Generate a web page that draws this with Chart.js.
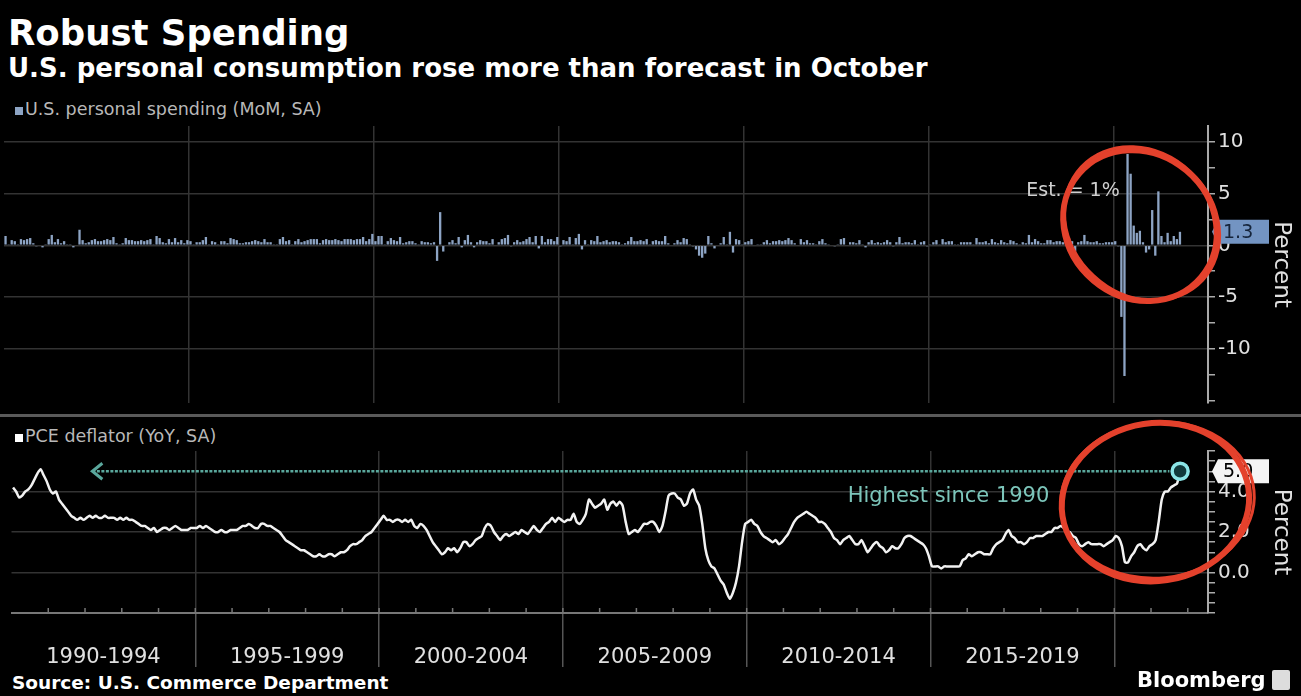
<!DOCTYPE html>
<html lang="en">
<head>
  <meta charset="UTF-8">
  <title>Robust Spending</title>
  <script src="https://cdn.jsdelivr.net/npm/chart.js"></script>
  <style>
    body { margin: 0; background: #000; width: 1301px; height: 696px; overflow: hidden; position: relative; font-family: 'DejaVu Sans', sans-serif; color: #fff; }
    #titulo { position: absolute; left: 8px; top: 12px; font-size: 35.5px; font-weight: bold; }
    #subtitulo { position: absolute; left: 8px; top: 53px; font-size: 26px; font-weight: bold; }
    .leyenda { position: absolute; left: 15px; font-size: 17.5px; color: #b8b8b8; white-space: nowrap; }
    .leyenda i { display: inline-block; width: 8px; height: 8px; margin-right: 2px; }
    canvas { position: absolute; left: 0; }
    #separador { position: absolute; left: 0; top: 414px; width: 1301px; height: 3px; background: #5a5a5a; }
    #fuente { position: absolute; left: 12px; top: 672px; font-size: 18.5px; font-weight: bold; }
    #marca { position: absolute; left: 1137px; top: 668px; font-size: 21px; font-weight: bold; }
    #marca i { display: inline-block; width: 18px; height: 20px; background: #ddd; border-radius: 2px; margin-left: 6px; vertical-align: -3px; }
  </style>
</head>
<body>
  <div id="titulo">Robust Spending</div>
  <div id="subtitulo">U.S. personal consumption rose more than forecast in October</div>

  <div class="leyenda" style="top:99px"><i style="background:#8da4c4"></i>U.S. personal spending (MoM, SA)</div>
  <canvas id="gasto" width="1301" height="318" style="top:100px"></canvas>
  <div id="separador"></div>

  <div class="leyenda" style="top:426px"><i style="background:#fff"></i>PCE deflator (YoY, SA)</div>
  <canvas id="precios" width="1301" height="253" style="top:418px"></canvas>

  <div id="fuente">Source: U.S. Commerce Department</div>
  <div id="marca">Bloomberg<i></i></div>

  <script>
    // Gasto personal, variación mensual (%), ene 1990 - oct 2021
    const gastoMensual = [
      0.9, 0.1, 0.5, 0.4, 0.1, 0.6, 0.5, 0.6, 0.7, 0.2, -0.1, 0.0,
      -0.2, 0.1, 0.6, 1.0, 0.3, 0.6, 0.2, 0.4, 0.1, 0.1, -0.2, 0.0,
      1.5, 0.5, 0.2, 0.3, 0.5, 0.6, 0.4, 0.4, 0.5, 0.6, 0.5, 0.8,
      0.2, 0.1, 0.2, 0.7, 0.5, 0.5, 0.4, 0.4, 0.5, 0.4, 0.5, 0.6,
      0.1, 0.9, 0.7, 0.3, 0.2, 0.6, 0.3, 0.7, 0.3, 0.5, 0.2, 0.5,
      0.4, 0.1, 0.3, 0.3, 0.5, 0.8, 0.1, 0.4, 0.3, 0.1, 0.4, 0.4,
      0.2, 0.7, 0.6, 0.5, 0.2, 0.2, 0.3, 0.3, 0.4, 0.5, 0.4, 0.3,
      0.6, 0.3, 0.3, 0.1, 0.1, 0.6, 0.8, 0.4, 0.5, 0.1, 0.4, 0.6,
      0.3, 0.4, 0.5, 0.6, 0.6, 0.6, 0.2, 0.5, 0.6, 0.5, 0.5, 0.6,
      0.5, 0.4, 0.6, 0.6, 0.6, 0.5, 0.6, 0.6, 0.8, 0.4, 0.6, 1.1,
      0.4, 0.9, 0.9, 0.1, 0.4, 0.7, 0.5, 0.4, 0.8, 0.2, 0.3, 0.4,
      0.4, 0.2, 0.1, 0.4, 0.3, 0.3, 0.2, 0.3, -1.5, 3.2, -0.6, 0.0,
      0.3, 0.5, 0.2, 0.8, -0.2, 0.5, 1.0, 0.3, -0.2, 0.3, 0.5, 0.4,
      0.4, 0.2, 0.6, 0.0, 0.3, 0.6, 0.7, 1.0, -0.1, 0.3, 0.5, 0.3,
      0.4, 0.6, 0.8, 0.3, 0.9, -0.3, 0.9, 0.3, 0.6, 0.6, 0.4, 0.8,
      -0.1, 0.5, 0.4, 0.8, 0.1, 0.7, 1.1, -0.4, 0.5, 0.1, 0.5, 0.4,
      0.9, 0.3, 0.4, 0.5, 0.3, 0.4, 0.4, 0.3, 0.1, 0.2, 0.4, 0.8,
      0.4, 0.4, 0.5, 0.4, 0.6, 0.1, 0.4, 0.5, 0.4, 0.4, 0.9, 0.2,
      0.0, 0.2, 0.5, 0.3, 0.7, 0.6, 0.1, -0.1, -0.4, -1.0, -1.2, -0.8,
      0.9, 0.2, -0.3, 0.0, 0.2, 0.8, 0.1, 1.3, -0.7, 0.6, 0.5, 0.1,
      0.3, 0.4, 0.6, 0.0, 0.1, 0.1, 0.3, 0.5, 0.2, 0.4, 0.4, 0.5,
      0.4, 0.5, 0.7, 0.5, 0.2, 0.0, 0.6, 0.3, 0.5, 0.2, 0.2, 0.1,
      0.4, 0.6, 0.2, 0.1, 0.0, -0.1, 0.1, 0.6, 0.7, 0.0, 0.3, 0.3,
      0.2, 0.5, 0.1, -0.2, 0.3, 0.5, 0.2, 0.3, 0.2, 0.3, 0.5, 0.3,
      -0.1, 0.3, 0.8, 0.2, 0.3, 0.3, 0.2, 0.5, 0.1, 0.3, 0.4, -0.1,
      0.1, 0.3, 0.5, 0.1, 0.6, 0.3, 0.4, 0.4, 0.1, 0.1, 0.3, 0.3,
      0.3, 0.3, 0.1, 0.7, 0.3, 0.3, 0.4, 0.2, 0.6, 0.3, 0.2, 0.5,
      0.3, 0.2, 0.5, 0.4, 0.2, 0.1, 0.3, 0.2, 1.0, 0.3, 0.6, 0.4,
      0.2, 0.2, 0.5, 0.5, 0.3, 0.4, 0.4, 0.3, 0.2, 0.7, 0.4, -0.6,
      0.3, 0.4, 1.0, 0.4, 0.3, 0.3, 0.4, 0.2, 0.2, 0.3, 0.3, 0.3,
      0.4, -0.1, -6.9, -12.6, 8.8, 6.9, 1.9, 1.2, 1.4, 0.3, -0.7, -0.4,
      3.4, -1.0, 5.2, 0.9, 0.3, 1.2, 0.4, 0.9, 0.6, 1.3
    ];

    // Deflactor PCE, variación anual (%), ene 1990 - oct 2021
    const deflactorPCE = [
      4.2, 4.0, 3.7, 3.8, 4.0, 4.1, 4.3, 4.6, 4.9, 5.1, 4.8, 4.5,
      4.1, 3.9, 4.0, 3.6, 3.4, 3.2, 3.0, 2.8, 2.7, 2.6, 2.7, 2.6,
      2.7, 2.8, 2.7, 2.8, 2.7, 2.7, 2.8, 2.7, 2.7, 2.7, 2.6, 2.7,
      2.6, 2.7, 2.6, 2.6, 2.5, 2.4, 2.3, 2.3, 2.2, 2.1, 2.2, 2.0,
      2.1, 2.2, 2.2, 2.1, 2.2, 2.3, 2.2, 2.1, 2.1, 2.1, 2.2, 2.2,
      2.2, 2.3, 2.2, 2.3, 2.2, 2.1, 2.0, 2.0, 2.1, 2.0, 2.0, 2.1,
      2.1, 2.1, 2.2, 2.3, 2.3, 2.4, 2.3, 2.2, 2.2, 2.4, 2.4, 2.3,
      2.3, 2.2, 2.1, 2.0, 1.8, 1.6, 1.5, 1.4, 1.3, 1.2, 1.1, 1.1,
      1.0, 0.9, 0.8, 0.8, 0.9, 0.8, 0.8, 0.9, 0.9, 0.8, 0.9, 1.0,
      1.0, 1.1, 1.3, 1.4, 1.4, 1.5, 1.6, 1.8, 1.9, 2.0, 2.2, 2.4,
      2.6, 2.8, 2.6, 2.6, 2.5, 2.6, 2.6, 2.5, 2.6, 2.5, 2.6, 2.3,
      2.2, 2.4, 2.3, 2.1, 1.8, 1.5, 1.3, 1.1, 0.9, 1.0, 1.2, 1.1,
      1.2, 1.0, 1.2, 1.5, 1.5, 1.3, 1.4, 1.6, 1.7, 1.8, 2.2, 2.4,
      2.3, 2.0, 1.8, 1.6, 1.8, 1.9, 1.8, 1.9, 2.0, 1.9, 2.1, 2.0,
      1.9, 2.1, 2.3, 2.1, 2.0, 2.2, 2.4, 2.5, 2.7, 2.5, 2.7, 2.6,
      2.5, 2.6, 2.6, 2.9, 2.5, 2.4, 2.6, 2.9, 3.6, 3.4, 3.2, 3.3,
      3.4, 3.6, 3.1, 3.4, 3.5, 3.3, 3.5, 3.3, 2.5, 1.9, 2.0, 2.1,
      2.0, 2.2, 2.4, 2.4, 2.5, 2.5, 2.3, 2.0, 2.3, 3.0, 3.8, 3.9,
      3.9, 3.7, 3.6, 3.3, 3.4, 3.9, 4.1, 3.6, 3.3, 2.4, 1.2, 0.6,
      0.3, 0.2, -0.1, -0.4, -0.6, -1.0, -1.3, -1.0, -0.5, 0.3, 1.5, 2.4,
      2.5, 2.6, 2.4, 2.3, 2.0, 1.8, 1.7, 1.6, 1.5, 1.6, 1.4, 1.5,
      1.7, 1.9, 2.2, 2.5, 2.7, 2.8, 2.9, 3.0, 2.9, 2.8, 2.7, 2.5,
      2.5, 2.4, 2.2, 2.0, 1.7, 1.6, 1.4, 1.6, 1.7, 1.8, 1.6, 1.4,
      1.4, 1.6, 1.3, 1.0, 1.2, 1.4, 1.5, 1.3, 1.2, 1.0, 1.1, 1.3,
      1.2, 1.2, 1.4, 1.7, 1.8, 1.8, 1.7, 1.6, 1.5, 1.4, 1.2, 0.8,
      0.3, 0.3, 0.3, 0.2, 0.3, 0.3, 0.3, 0.3, 0.3, 0.3, 0.6, 0.7,
      0.9, 0.8, 0.9, 1.0, 1.0, 0.9, 0.9, 0.9, 1.2, 1.4, 1.5, 1.6,
      1.9, 2.1, 1.8, 1.7, 1.5, 1.5, 1.4, 1.5, 1.7, 1.7, 1.8, 1.8,
      1.8, 1.9, 2.0, 2.0, 2.2, 2.2, 2.3, 2.2, 2.0, 2.0, 1.8, 1.7,
      1.4, 1.3, 1.4, 1.5, 1.4, 1.4, 1.4, 1.4, 1.3, 1.4, 1.5, 1.6,
      1.8, 1.7, 1.3, 0.5, 0.5, 0.8, 1.0, 1.3, 1.4, 1.2, 1.1, 1.3,
      1.4, 1.6, 2.5, 3.6, 4.0, 4.0, 4.2, 4.3, 4.4, 5.0
    ];

    // Etiquetas de los ejes
    const periodos = ['1990-1994', '1995-1999', '2000-2004', '2005-2009', '2010-2014', '2015-2019'];
    const inicioPeriodos = [1990, 1995, 2000, 2005, 2010, 2015];
    const etiquetasGasto = [10, 5, 0, -5, -10];
    const etiquetasPCE = [0, 2, 4];

    const anioInicio = 1990;
    const anioFin = 2022.55;
    const teal = '#5aa79c';
    const rojo = '#e4412c';

    Chart.defaults.font.family = "'DejaVu Sans', sans-serif";
    Chart.defaults.color = '#e0e0e0';

    // Mes i -> año decimal (mitad de mes)
    const puntos = serie => serie.map((v, i) => ({ x: anioInicio + (i + 0.5) / 12, y: v }));

    const transparente = 'rgba(0,0,0,0)';
    const cadaAnio = () => {
      const ticks = [];
      for (let a = anioInicio; a <= 2022; a++) ticks.push({ value: a });
      return ticks;
    };
    const esQuinquenio = ctx => ctx.tick && ctx.tick.value % 5 === 0 && ctx.tick.value > anioInicio;

    function ticksMenores(desde, hasta, paso) {
      const t = [];
      for (let v = desde; v <= hasta + 1e-9; v += paso) t.push({ value: Math.round(v * 100) / 100 });
      return t;
    }

    function ejeY(min, max, paso, etiquetas, formato) {
      return {
        position: 'right', min, max,
        afterFit: s => { s.width = 93; },
        afterBuildTicks: s => { s.ticks = ticksMenores(Math.ceil(min / paso) * paso, max, paso); },
        border: { color: '#aaa', width: 2 },
        grid: {
          color: ctx => ctx.tick && etiquetas.includes(ctx.tick.value) ? '#333' : transparente,
          tickColor: '#aaa', tickLength: 7, lineWidth: 1.5
        },
        ticks: {
          autoSkip: false, padding: 3, color: '#e0e0e0', font: { size: 20 },
          callback: v => etiquetas.includes(v) ? formato(v) : ''
        },
        title: { display: true, text: 'Percent', color: '#e0e0e0', font: { size: 23 }, padding: 6 }
      };
    }

    function cajaValor(chart, valor, fondo, colorTexto) {
      const ctx = chart.ctx;
      const y = chart.scales.y.getPixelForValue(valor);
      const x = chart.chartArea.right + 4;
      ctx.save();
      ctx.fillStyle = fondo;
      ctx.beginPath();
      ctx.moveTo(x, y);
      ctx.lineTo(x + 6, y - 12);
      ctx.lineTo(x + 57, y - 12);
      ctx.lineTo(x + 57, y + 12);
      ctx.lineTo(x + 6, y + 12);
      ctx.closePath();
      ctx.fill();
      ctx.fillStyle = colorTexto;
      ctx.font = "19px 'DejaVu Sans'";
      ctx.textAlign = 'left';
      ctx.textBaseline = 'middle';
      ctx.fillText(valor.toFixed(1), x + 11, y + 1);
      ctx.restore();
    }

    function elipse(chart, xv, yv, rx, ry, rot) {
      const ctx = chart.ctx;
      const cx = chart.scales.x.getPixelForValue(xv);
      const cy = chart.scales.y.getPixelForValue(yv);
      ctx.save();
      ctx.strokeStyle = rojo;
      ctx.lineWidth = 6;
      ctx.beginPath();
      ctx.ellipse(cx, cy, rx, ry, rot, 0, Math.PI * 2);
      ctx.stroke();
      ctx.lineWidth = 3;
      ctx.beginPath();
      ctx.ellipse(cx + 2, cy - 2, rx + 3, ry - 1, rot + 0.05, 0, Math.PI * 2);
      ctx.stroke();
      ctx.restore();
    }

    // ---- Panel superior: gasto personal ----
    const notasGasto = {
      id: 'notasGasto',
      afterDraw(chart) {
        const ctx = chart.ctx;
        ctx.save();
        ctx.fillStyle = '#d0d0d0';
        ctx.font = "19px 'DejaVu Sans'";
        ctx.textAlign = 'center';
        ctx.textBaseline = 'middle';
        ctx.fillText('Est. = 1%', chart.scales.x.getPixelForValue(2018.9), chart.scales.y.getPixelForValue(5.2));
        ctx.restore();
        cajaValor(chart, gastoMensual[gastoMensual.length - 1], '#7394c2', '#15243a');
        elipse(chart, 2020.71, 1.9, 80, 72, 0.7);
      }
    };

    new Chart(document.getElementById('gasto'), {
      type: 'bar',
      data: {
        datasets: [{
          label: 'U.S. personal spending (MoM, SA)',
          data: puntos(gastoMensual),
          backgroundColor: '#8da4c4',
          barPercentage: 0.75,
          categoryPercentage: 1
        }]
      },
      options: {
        responsive: false,
        animation: false,
        layout: { padding: { top: 26, left: 4, right: 0, bottom: 3 } },
        plugins: { legend: { display: false }, tooltip: { enabled: false } },
        scales: {
          x: {
            type: 'linear', min: anioInicio, max: anioFin, offset: false,
            afterBuildTicks: s => { s.ticks = cadaAnio(); },
            border: { display: false },
            grid: { offset: false, drawTicks: false, color: ctx => esQuinquenio(ctx) ? '#333' : transparente, lineWidth: 1.5 },
            ticks: { display: false }
          },
          y: ejeY(-15.2, 11.5, 2.5, etiquetasGasto, v => String(v))
        }
      },
      plugins: [notasGasto]
    });

    // ---- Panel inferior: deflactor PCE ----
    const notasPCE = {
      id: 'notasPCE',
      beforeDatasetsDraw(chart) {
        const ctx = chart.ctx;
        const sx = chart.scales.x, sy = chart.scales.y;
        const ultimo = deflactorPCE[deflactorPCE.length - 1];
        const y = sy.getPixelForValue(ultimo);
        const x0 = sx.getPixelForValue(1992.2);
        const x1 = sx.getPixelForValue(2021.5);
        ctx.save();
        ctx.strokeStyle = teal;
        ctx.lineWidth = 2.5;
        ctx.setLineDash([3, 1.5]);
        ctx.beginPath();
        ctx.moveTo(x0, y);
        ctx.lineTo(x1, y);
        ctx.stroke();
        ctx.setLineDash([]);
        ctx.lineWidth = 3;
        ctx.beginPath();
        ctx.moveTo(x0 + 10, y - 8);
        ctx.lineTo(x0, y);
        ctx.lineTo(x0 + 10, y + 8);
        ctx.stroke();
        ctx.fillStyle = '#7cc5ba';
        ctx.font = "21px 'DejaVu Sans'";
        ctx.textAlign = 'center';
        ctx.textBaseline = 'middle';
        ctx.fillText('Highest since 1990', sx.getPixelForValue(2015.49), sy.getPixelForValue(3.73));
        // marcas anuales sobre el eje
        ctx.strokeStyle = '#777';
        ctx.lineWidth = 1.5;
        const base = chart.chartArea.bottom;
        for (let a = anioInicio + 1; a <= 2022; a++) {
          const px = sx.getPixelForValue(a);
          ctx.beginPath();
          ctx.moveTo(px, base);
          ctx.lineTo(px, base - 5);
          ctx.stroke();
        }
        ctx.restore();
      },
      afterDraw(chart) {
        cajaValor(chart, deflactorPCE[deflactorPCE.length - 1], '#f4f4f4', '#000');
        elipse(chart, 2021.12, 3.48, 94, 79, -0.15);
      }
    };

    const ultimoIdx = deflactorPCE.length - 1;

    new Chart(document.getElementById('precios'), {
      type: 'line',
      data: {
        datasets: [{
          label: 'PCE deflator (YoY, SA)',
          data: puntos(deflactorPCE),
          borderColor: '#f2f2f2',
          borderWidth: 2.5,
          tension: 0.2,
          pointRadius: ctx => ctx.dataIndex === ultimoIdx ? 8 : 0,
          pointBorderWidth: 3.5,
          pointBorderColor: '#8ae4e6',
          pointBackgroundColor: '#10393b'
        }]
      },
      options: {
        responsive: false,
        animation: false,
        layout: { padding: { top: 33, left: 4, right: 0, bottom: 0 } },
        plugins: { legend: { display: false }, tooltip: { enabled: false } },
        scales: {
          x: {
            type: 'linear', min: anioInicio, max: anioFin,
            afterFit: s => { s.height = 58; },
            afterBuildTicks: s => {
              const t = cadaAnio();
              inicioPeriodos.forEach(a => t.push({ value: a + 2.5 }));
              t.sort((a, b) => a.value - b.value);
              s.ticks = t;
            },
            border: { color: '#777', width: 2 },
            grid: {
              color: ctx => esQuinquenio(ctx) ? '#333' : transparente,
              tickColor: ctx => esQuinquenio(ctx) ? '#555' : transparente,
              tickLength: 54, lineWidth: 1.5
            },
            ticks: {
              autoSkip: false, maxRotation: 0, minRotation: 0, padding: -22,
              color: '#e0e0e0', font: { size: 21 },
              callback: v => {
                const i = inicioPeriodos.indexOf(v - 2.5);
                return i >= 0 ? periodos[i] : '';
              }
            }
          },
          y: ejeY(-2, 6, 0.5, etiquetasPCE, v => v.toFixed(1))
        }
      },
      plugins: [notasPCE]
    });
  </script>
</body>
</html>
